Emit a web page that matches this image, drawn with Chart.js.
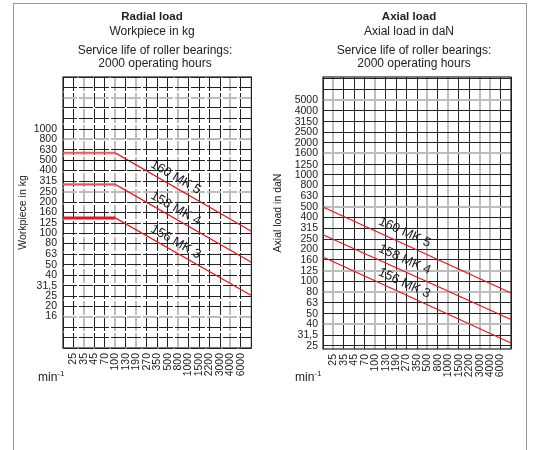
<!DOCTYPE html>
<html>
<head>
<meta charset="utf-8">
<script src="https://cdn.jsdelivr.net/npm/chart.js@4"></script>
<style>
  body { margin: 0; background: #fff; font-family: "Liberation Sans", Arial, sans-serif; color: #222; }
  #wrap { position: relative; width: 538px; height: 450px; overflow: hidden; }
  #frame { position: absolute; left: 13px; top: 3px; width: 514px; height: 470px; border: 1.5px solid #999; box-sizing: border-box; }
  canvas { position: absolute; top: 0; }
  .t { position: absolute; width: 260px; text-align: center; font-size: 12px; line-height: 14px; white-space: nowrap; }
  .b { font-weight: bold; font-size: 11.5px; }
  .unit { position: absolute; font-size: 12px; }
  .unit sup { font-size: 8px; }
</style>
</head>
<body>
<div id="wrap">
  <div id="frame"></div>
  <canvas id="radialChart" width="269" height="450" style="left:0"></canvas>
  <canvas id="axialChart" width="269" height="450" style="left:269px"></canvas>

  <div class="t b" style="left:22px;top:9px">Radial load</div>
  <div class="t" style="left:22px;top:24px">Workpiece in kg</div>
  <div class="t" style="left:25px;top:43px">Service life of roller bearings:</div>
  <div class="t" style="left:25px;top:56px">2000 operating hours</div>

  <div class="t b" style="left:279px;top:9px">Axial load</div>
  <div class="t" style="left:279px;top:24px">Axial load in daN</div>
  <div class="t" style="left:284px;top:43px">Service life of roller bearings:</div>
  <div class="t" style="left:284px;top:56px">2000 operating hours</div>

  <div class="unit" style="left:38px;top:369px">min<sup>-1</sup></div>
  <div class="unit" style="left:295px;top:369px">min<sup>-1</sup></div>
</div>
<script>
// Speed axis (same for both panels), empty slot at each end of the grid
const rpmLabels = ["", "25", "35", "45", "70", "100", "130", "190", "270", "350", "500",
  "800", "1000", "1500", "2200", "3000", "4000", "6000", ""];

// Radial load grid (kg)
const radialTicks = [8, 10, 12.5, 16, 20, 25, 31.5, 40, 50, 63, 80, 100, 125, 160, 200, 250,
  315, 400, 500, 630, 800, 1000, 1250, 1600, 2000, 2500, 3150];
const radialLabeled = [16, 20, 25, 31.5, 40, 50, 63, 80, 100, 125, 160, 200, 250, 315, 400,
  500, 630, 800, 1000];

// Axial load grid (daN)
const axialTicks = [25, 31.5, 40, 50, 63, 80, 100, 125, 160, 200, 250, 315, 400, 500, 630,
  800, 1000, 1250, 1600, 2000, 2500, 3150, 4000, 5000, 6300, 8000];

// Radial curves: flat up to 100 min-1, then falling to the right edge
const radial160 = [590, null, null, null, null, 590, null, null, null, null, null, null, null, null, null, null, null, null, 105];
const radial158 = [295, null, null, null, null, 295, null, null, null, null, null, null, null, null, null, null, null, null, 53];
const radial156 = [141, null, null, null, null, 141, null, null, null, null, null, null, null, null, null, null, null, null, 25.5];
const radial500 = [500, null, null, null, null, null, null, null, null, null, null, 500];

// Axial curves
const axial160 = [500, null, null, null, null, null, null, null, null, null, null, null, null, null, null, null, null, null, 78];
const axial158 = [275, null, null, null, null, null, null, null, null, null, null, null, null, null, null, null, null, null, 44];
const axial156 = [170, null, null, null, null, null, null, null, null, null, null, null, null, null, null, null, null, null, 26.5];

const FONT = "'Liberation Sans', Arial, sans-serif";
const RED = "#e8141c";
const fmt = (v) => String(v).replace(".", ",");

Chart.defaults.font.family = FONT;
Chart.defaults.color = "#222";

// curve names written along the sloped part of each line
const curveLabels = {
  id: "curveLabels",
  afterDatasetsDraw(chart, args, opts) {
    const ctx = chart.ctx;
    (opts.items || []).forEach((item) => {
      const ds = chart.data.datasets[item.dataset];
      const pts = chart.getDatasetMeta(item.dataset).data.filter((p, i) => ds.data[i] != null);
      const a = pts[pts.length - 2];
      const b = pts[pts.length - 1];
      const x = a.x + (b.x - a.x) * item.at;
      const y = a.y + (b.y - a.y) * item.at;
      const ang = Math.atan2(b.y - a.y, b.x - a.x);
      ctx.save();
      ctx.translate(x + Math.sin(ang) * item.offset, y - Math.cos(ang) * item.offset);
      ctx.rotate(ang);
      ctx.font = "13px " + FONT;
      ctx.fillStyle = "#222";
      ctx.textAlign = "center";
      ctx.textBaseline = "middle";
      ctx.fillText(item.text, 0, 0);
      ctx.restore();
    });
  },
};

// solid frame round the plot
const plotFrame = {
  id: "plotFrame",
  beforeDatasetsDraw(chart) {
    const { ctx, chartArea } = chart;
    ctx.save();
    ctx.strokeStyle = "#222";
    ctx.lineWidth = 1.2;
    ctx.strokeRect(chartArea.left, chartArea.top, chartArea.right - chartArea.left, chartArea.bottom - chartArea.top);
    ctx.restore();
  },
};

function line(data, color, width) {
  return { data, borderColor: color, borderWidth: width, pointRadius: 0, spanGaps: true, tension: 0 };
}

function makeOptions(cfg) {
  return {
    responsive: false,
    animation: false,
    layout: { padding: cfg.padding },
    plugins: {
      legend: { display: false },
      tooltip: { enabled: false },
      curveLabels: { items: cfg.labels },
    },
    scales: {
      x: {
        type: "category",
        offset: false,
        grid: {
          drawTicks: false,
          color: (c) => (cfg.grayX.includes(c.index) ? "#bdbdbd" : "#222"),
          lineWidth: (c) => (cfg.grayX.includes(c.index) ? 2 : 1),
        },
        border: { display: false, dash: cfg.dash },
        ticks: { autoSkip: false, maxRotation: 90, minRotation: 90, padding: 5, font: { size: 10.5 } },
        afterFit: (s) => { s.height = 40; },
      },
      y: {
        type: "logarithmic",
        min: cfg.min,
        max: cfg.max,
        afterBuildTicks: (s) => { s.ticks = cfg.ticks.map((v) => ({ value: v })); },
        grid: {
          drawTicks: false,
          color: (c) => (cfg.grayY.includes(c.tick.value) ? "#bdbdbd" : "#222"),
          lineWidth: (c) => (cfg.grayY.includes(c.tick.value) ? 2 : 1),
        },
        border: { display: false, dash: cfg.dash },
        ticks: {
          autoSkip: false,
          padding: cfg.tickPad,
          font: { size: 10.5 },
          callback: (v) => (cfg.labeled.includes(v) ? fmt(v) : ""),
        },
        title: { display: true, text: cfg.yTitle, font: { size: 10.5 }, padding: { top: cfg.titlePad, bottom: 0 } },
        afterFit: (s) => { s.width = cfg.yWidth; },
      },
    },
  };
}

// Radial load
new Chart(document.getElementById("radialChart"), {
  type: "line",
  data: {
    labels: rpmLabels,
    datasets: [
      line(radial500, "#111", 1),
      line(radial160.slice(0, 6), "rgba(240,110,110,0.55)", 3),
      line(radial158.slice(0, 6), "rgba(240,110,110,0.7)", 3),
      line(radial156.slice(0, 6), RED, 3),
      line(radial160, RED, 1.2),
      line(radial158, RED, 1.2),
      line(radial156, RED, 1.2),
    ],
  },
  options: makeOptions({
    padding: { top: 77, right: 17, bottom: 62, left: 0 },
    min: 8, max: 3150, ticks: radialTicks, labeled: radialLabeled,
    grayX: [2, 5, 7, 11, 16], grayY: [2000, 800, 250, 16],
    dash: [14, 2], tickPad: 6, yWidth: 63, titlePad: 17,
    yTitle: "Workpiece in kg",
    labels: [
      { dataset: 4, text: "160 MK 5", at: 0.41, offset: 9 },
      { dataset: 5, text: "158 MK 4", at: 0.41, offset: 9 },
      { dataset: 6, text: "156 MK 3", at: 0.41, offset: 9 },
    ],
  }),
  plugins: [plotFrame, curveLabels],
});

// Axial load
new Chart(document.getElementById("axialChart"), {
  type: "line",
  data: {
    labels: rpmLabels,
    datasets: [
      line(axial160, RED, 1.2),
      line(axial158, RED, 1.2),
      line(axial156, RED, 1.2),
    ],
  },
  options: makeOptions({
    padding: { top: 77, right: 27, bottom: 61, left: 0 },
    min: 23.3, max: 8300, ticks: axialTicks, labeled: axialTicks.slice(0, 24),
    grayX: [1, 5, 10, 12, 15, 16], grayY: [5000, 1600, 500, 125, 80, 40],
    dash: [], tickPad: 5, yWidth: 54, titlePad: 3,
    yTitle: "Axial load in daN",
    labels: [
      { dataset: 0, text: "160 MK 5", at: 0.41, offset: 11 },
      { dataset: 1, text: "158 MK 4", at: 0.41, offset: 11 },
      { dataset: 2, text: "156 MK 3", at: 0.41, offset: 10 },
    ],
  }),
  plugins: [plotFrame, curveLabels],
});
</script>
</body>
</html>
